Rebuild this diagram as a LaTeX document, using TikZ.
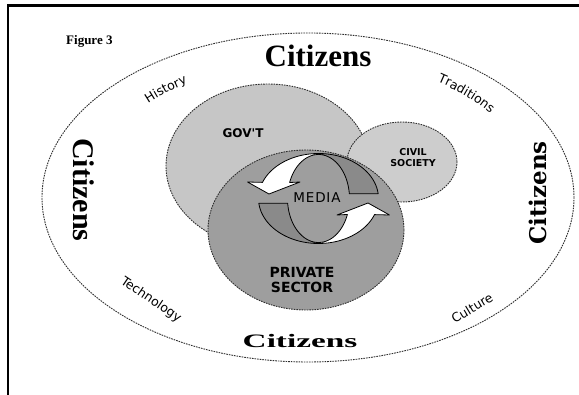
\documentclass[tikz,border=0pt]{standalone}
\usepackage{fontspec}
\setmainfont{Liberation Serif}
\newfontfamily\labelfont{DejaVu Sans}
\newfontfamily\slabfont{DejaVu Serif}
\usetikzlibrary{shapes.geometric,decorations.text}

\definecolor{govfill}{HTML}{C6C6C6}
\definecolor{civfill}{HTML}{CDCDCD}
\definecolor{privfill}{HTML}{9E9E9E}
\definecolor{arrowdark}{HTML}{8A8A8A}
\definecolor{zoneedge}{HTML}{2E2E2E}

\tikzset{
  zone/.style={ellipse, inner sep=0pt, outer sep=0pt, draw=zoneedge,
    line width=0.9pt, dash pattern=on 1.6pt off 1pt},
  arrowline/.style={draw=black, line width=0.8pt, line join=round},
  citizen/.style={inner sep=0pt, font=\bfseries},
  tag/.style={inner sep=0pt, font=\labelfont\bfseries},
  influence/.style={inner sep=0pt, font=\labelfont\fontsize{12.5}{14}\selectfont},
  % one half of the media cycle: shaded back part and white front part with head
  mediaarrow/.pic={
    \filldraw[arrowline, fill=arrowdark]
      plot[domain=6:90, samples=40] ({60*cos(\x)},{-45*sin(\x)})
      -- plot[domain=90:6.1, samples=40] ({31*cos(\x)},{-44*sin(\x)}) -- cycle;
    \filldraw[arrowline, fill=white]
      plot[domain=90:159, samples=40] ({60*cos(\x)},{-45*sin(\x)})
      -- (-71,-16.5) -- (-49.5,-4.5) -- (-18.5,-16.5)
      -- plot[domain=158.7:90, samples=40] ({31*cos(\x)},{-44*sin(\x)}) -- cycle;
  },
  ringtext/.style={decorate, decoration={text along path, text align=center,
    text={|\labelfont\fontsize{12.5}{14}\selectfont|#1}}}
}

\begin{document}
\begin{tikzpicture}[x=1pt, y=-1pt]
  \clip (0,0) rectangle (579,395);
  \fill[white] (0,0) rectangle (579,395);
  % page frame
  \draw[line width=2.5pt] (8,5.3) rectangle (640,460);

  \node[anchor=base west, inner sep=0pt, font=\bfseries\fontsize{13}{15}\selectfont]
    (fig) at (66,45) {Figure 3};

  % society and its sectors
  \node[zone, minimum width=532, minimum height=329] (world) at (308,197.5) {};
  \node[zone, fill=govfill, minimum width=204, minimum height=164] (gov) at (268,166) {};
  \node[zone, fill=civfill, minimum width=110, minimum height=80] (civil) at (402,162) {};
  \node[zone, fill=privfill, minimum width=196, minimum height=160] (private) at (306,230) {};

  % media cycle
  \coordinate (hub) at (318.5,198.5);
  \pic at (hub) {mediaarrow};
  \pic[rotate=180] at (hub) {mediaarrow};

  % sector names
  \node[tag, font=\labelfont\bfseries\fontsize{12}{14}\selectfont] (govname) at (243,133) {GOV'T};
  \node[tag, align=center, font=\labelfont\bfseries\fontsize{9.5}{11}\selectfont]
    (civname) at (413,158) {CIVIL\\SOCIETY};
  \node[inner sep=0pt, font=\labelfont\fontsize{13.5}{15}\selectfont\addfontfeature{LetterSpace=6}]
    (medianame) at (317,198) {MEDIA};
  \node[tag, align=center, font=\labelfont\bfseries\fontsize{14}{15.5}\selectfont]
    (privname) at (302,280) {PRIVATE\\SECTOR};

  % citizens all around
  \node[citizen, anchor=base, font=\bfseries\fontsize{31}{31}\selectfont] (ctop) at (318,67) {Citizens};
  \node[citizen, anchor=base, rotate=-90, font=\bfseries\fontsize{30}{30}\selectfont] (cleft) at (73,190) {Citizens};
  \node[citizen, anchor=base, rotate=90, font=\slabfont\bfseries\fontsize{23}{23}\selectfont] (cright) at (546,193) {Citizens};
  \node[citizen, anchor=base, font=\bfseries\fontsize{19}{19}\selectfont] (cbottom) at (300,348) {\scalebox{1.75}[1]{Citizens}};

  % influences written along the outer ring
  \path[ringtext={History}] plot[domain=151:111, samples=60]
    ({308+266*0.83*cos(\x)},{197.5-164.5*0.83*sin(\x)});
  \path[ringtext={Traditions}] plot[domain=69:19, samples=60]
    ({308+266*0.855*cos(\x)},{197.5-164.5*0.855*sin(\x)});
  \node[influence, rotate=-34] (technology) at (151,300) {Technology};
  \node[influence, rotate=31] (culture) at (472,308) {Culture};
\end{tikzpicture}
\end{document}
